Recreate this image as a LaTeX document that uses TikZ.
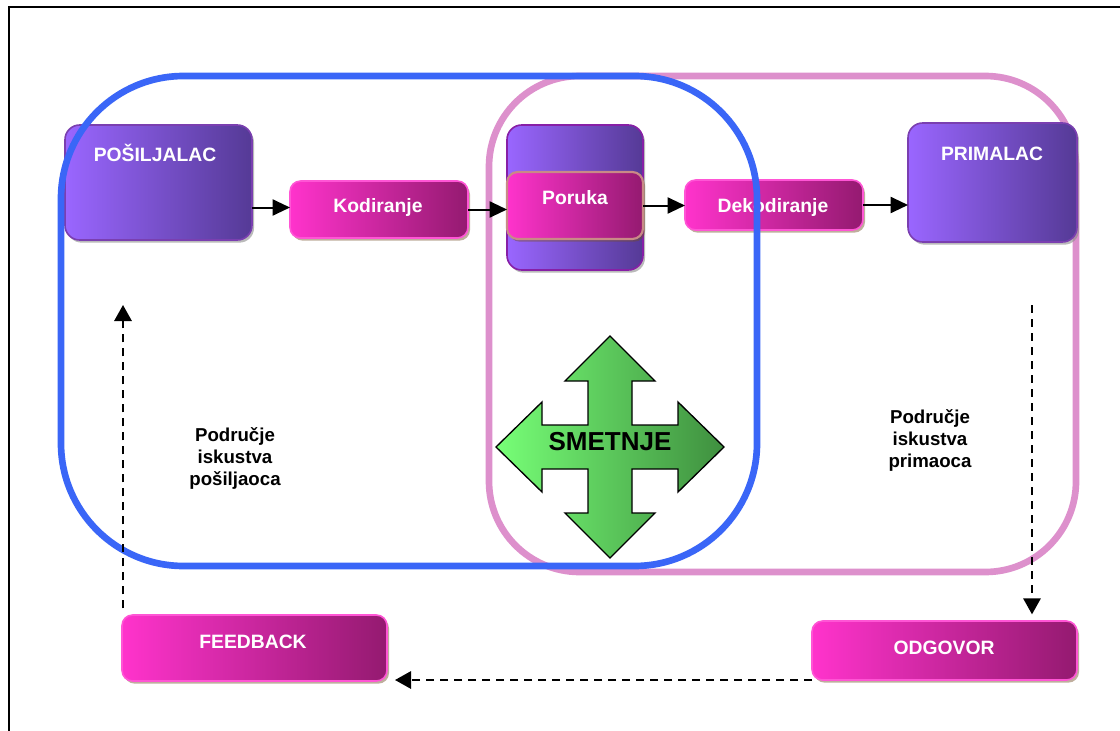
\documentclass[tikz,border=0pt]{standalone}
\usepackage{fontspec}
\setmainfont{Liberation Sans}
\usetikzlibrary{arrows.meta,shadows}
\definecolor{purpL}{HTML}{9A66FF}
\definecolor{purpR}{HTML}{553A96}
\definecolor{purpB}{HTML}{7A3FB0}
\definecolor{pinkL}{HTML}{FF33CC}
\definecolor{pinkR}{HTML}{941A70}
\definecolor{pinkB}{HTML}{FF55D5}
\definecolor{tanB}{HTML}{C98A86}
\definecolor{greenL}{HTML}{77FF77}
\definecolor{greenR}{HTML}{3F8F3F}
\definecolor{ringBlue}{HTML}{3A66F7}
\definecolor{ringPink}{HTML}{DD90CC}
\begin{document}
\begin{tikzpicture}[x=0.75pt,y=-0.75pt,
  purplebox/.style={rounded corners=11pt, left color=purpL, right color=purpR, draw=purpB, line width=1.2pt, inner sep=0pt, outer sep=0pt,
     drop shadow={shadow xshift=1.5pt, shadow yshift=-2pt, fill=black!45, opacity=.6}},
  pinkbox/.style={rounded corners=8pt, left color=pinkL, right color=pinkR, draw=pinkB, line width=1.2pt, inner sep=0pt, outer sep=0pt,
     drop shadow={shadow xshift=1.5pt, shadow yshift=-2pt, fill=brown!60!black, opacity=.45}},
  boxtext/.style={text=white, font=\fontsize{14.5}{17}\selectfont\bfseries, inner sep=0pt},
  areatext/.style={text=black, font=\fontsize{14}{16.5}\selectfont\bfseries, align=center, inner sep=0pt},
  solidarrow/.style={draw=black, line width=1.5pt, -{Triangle[length=13pt,width=12pt]}},
  dasharrow/.style={draw=black, line width=1.5pt, dash pattern=on 6pt off 4.5pt, -{Triangle[length=12pt,width=13pt]}},
  ring/.style={line width=5pt}
]
\useasboundingbox (0,0) rectangle (1120,731);
\fill[white] (0,0) rectangle (1120,731);
% frame
\draw[line width=1.5pt] (9,731) -- (9,7) -- (1120,7);
% pink ring (behind boxes)
\draw[ring, draw=ringPink, rounded corners=68pt] (489,76) rectangle (1076,572);
% boxes
\node[purplebox, minimum width=140.25pt, minimum height=86.25pt] (posiljalac) at (158.5,182.5) {};
\node[boxtext] (posiljalacText) at (155,153) {POŠILJALAC};
\node[pinkbox, minimum width=133.5pt, minimum height=42.75pt] (kodiranje) at (379,209.5) {};
\node[boxtext] (kodiranjeText) at (378,208) {Kodiranje};
\node[purplebox, draw=violet!70!purpL, minimum width=102pt, minimum height=108.75pt] (poruka) at (575,197.5) {};
\node[pinkbox, draw=tanB, line width=1.6pt, minimum width=102pt, minimum height=50.25pt] (porukaIn) at (575,205.5) {};
\node[boxtext] (porukaText) at (575,198) {Poruka};
\node[pinkbox, minimum width=133.5pt, minimum height=37.5pt] (dekodiranje) at (774,205) {};
\node[boxtext] (dekodiranjeText) at (773,208) {Dekodiranje};
\node[purplebox, minimum width=126.75pt, minimum height=89.25pt] (primalac) at (992.5,182.5) {};
\node[boxtext] (primalacText) at (992,154) {PRIMALAC};
\node[pinkbox, minimum width=198.75pt, minimum height=49.5pt] (feedback) at (254.5,648) {};
\node[boxtext] (feedbackText) at (253,642) {FEEDBACK};
\node[pinkbox, minimum width=198.75pt, minimum height=44.25pt] (odgovor) at (944.5,650.5) {};
\node[boxtext] (odgovorText) at (944,648) {ODGOVOR};
% solid arrows
\draw[solidarrow] (posiljalac.east |- kodiranje.west) ++(0,-2) coordinate (a1) -- (a1 -| kodiranje.west);
\draw[solidarrow] (kodiranje.east) -- (kodiranje.east -| porukaIn.west);
\draw[solidarrow] (porukaIn.east) -- (porukaIn.east -| dekodiranje.west);
\draw[solidarrow] (dekodiranje.east) -- (dekodiranje.east -| primalac.west);
% green cross
\coordinate (smc) at (610,447);
\draw[line width=1pt, left color=greenL, right color=greenR]
  (smc) ++(0,-111) -- ++(45,45) -- ++(-23,0) -- ++(0,44) -- ++(46,0) -- ++(0,-23) -- ++(46,45)
  -- ++(-46,45) -- ++(0,-23) -- ++(-46,0) -- ++(0,44) -- ++(23,0) -- ++(-45,45)
  -- ++(-45,-45) -- ++(23,0) -- ++(0,-44) -- ++(-46,0) -- ++(0,23) -- ++(-46,-45)
  -- ++(46,-45) -- ++(0,23) -- ++(46,0) -- ++(0,-44) -- ++(-23,0) -- cycle;
\node[text=black, font=\fontsize{19.5}{22}\selectfont\bfseries, inner sep=0pt] (smetnje) at (610,442) {SMETNJE};
% area texts
\node[areatext] (podrucjeP) at (235,458) {Područje\\iskustva\\pošiljaoca};
\node[areatext] (podrucjeR) at (930,440) {Područje\\iskustva\\primaoca};
% blue ring (on top of boxes)
\draw[ring, draw=ringBlue, rounded corners=92pt] (61,76) rectangle (757,566);
% dashed arrows
\coordinate (recvTail) at (1032,305);
\draw[dasharrow, shorten >=5pt] (recvTail) -- (recvTail |- odgovor.north);
\draw[dasharrow, shorten >=6pt] (odgovor.south west) -- (odgovor.south west -| feedback.east);
\coordinate (fbTip) at (123,305);
\draw[dasharrow, shorten <=5pt] (fbTip |- feedback.north) -- (fbTip);
\end{tikzpicture}
\end{document}
